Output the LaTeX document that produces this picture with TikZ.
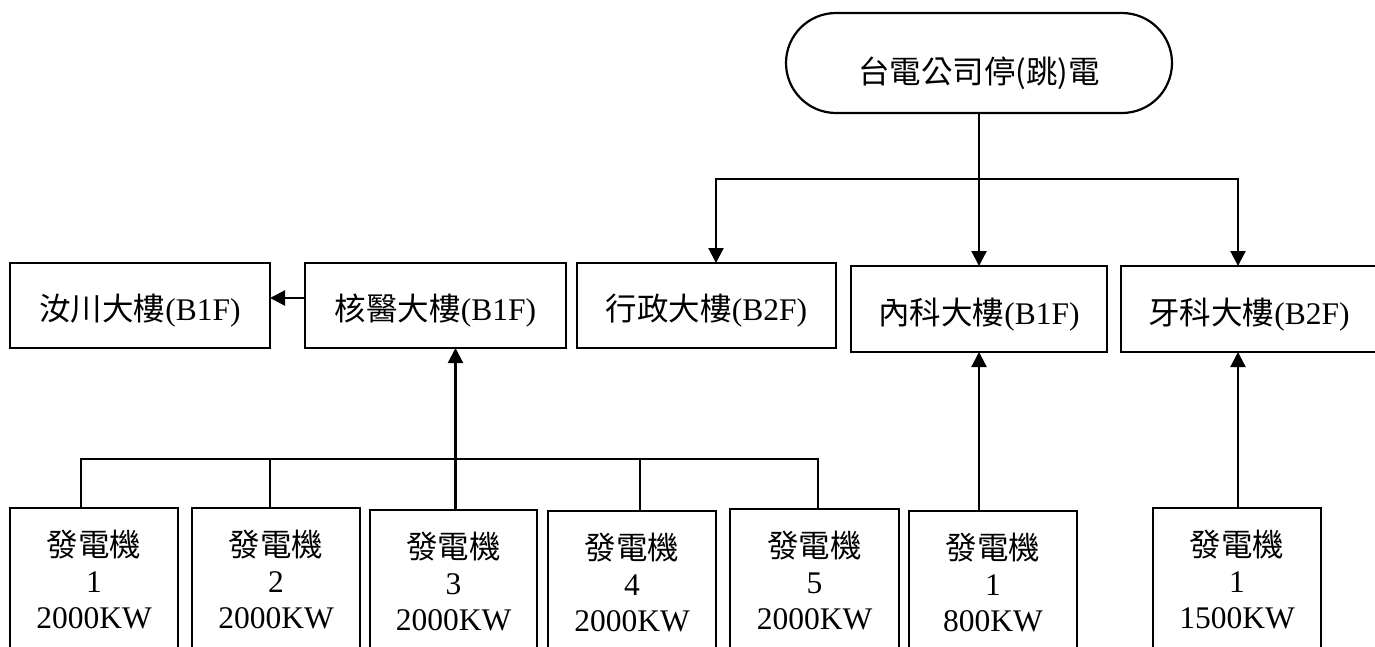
\documentclass[tikz,border=0pt]{standalone}
\usepackage{fontspec}
\setmainfont{Liberation Serif}
\newfontfamily\cjk{Noto Sans CJK TC}
\usetikzlibrary{arrows.meta,shapes.misc}
\begin{document}
\begin{tikzpicture}[x=1pt,y=-1pt,
  line width=2.2pt,
  every node/.style={inner sep=0pt, outer sep=0pt},
  txt/.style={font=\fontsize{31.5}{36}\selectfont},
  bldg/.style={draw, rectangle, txt, minimum height=85pt, text height=36pt, text depth=5.6pt},
  gen/.style={draw, rectangle, txt, minimum width=168pt, minimum height=143pt, anchor=north, align=center},
  term/.style={draw, rounded rectangle, txt, minimum width=386pt, minimum height=100pt, text height=44pt, text depth=3.8pt},
  arr/.style={-{Triangle[length=15pt,width=15pt]}},
  ]
\clip (0,0) rectangle (1375,646);
\fill[white] (0,0) rectangle (1375,646);
% top terminal
\node[term] (top) at (979,63) {\cjk 台電公司停(跳)電};
% buildings
\node[bldg, minimum width=260pt] (rc) at (140,305.5) {{\cjk 汝川大樓}(B1F)};
\node[bldg, minimum width=261pt] (hy) at (435.5,305.5) {{\cjk 核醫大樓}(B1F)};
\node[bldg, minimum width=259pt] (xz) at (706.5,305.5) {{\cjk 行政大樓}(B2F)};
\node[bldg, minimum width=256pt, minimum height=86pt] (nk) at (979,309) {{\cjk 內科大樓}(B1F)};
\node[bldg, minimum width=256pt, minimum height=86pt] (yk) at (1249,309) {{\cjk 牙科大樓}(B2F)};
% generators
\node[gen] (g1) at (94,508) {{\cjk 發電機}\\1\\2000KW};
\node[gen] (g2) at (276,508) {{\cjk 發電機}\\2\\2000KW};
\node[gen, minimum width=167pt] (g3) at (453.5,510) {{\cjk 發電機}\\3\\2000KW};
\node[gen] (g4) at (632,511) {{\cjk 發電機}\\4\\2000KW};
\node[gen, minimum width=169pt] (g5) at (814.5,509) {{\cjk 發電機}\\5\\2000KW};
\node[gen] (g6) at (993,511) {{\cjk 發電機}\\1\\800KW};
\node[gen] (g7) at (1237,508) {{\cjk 發電機}\\1\\1500KW};
% top distribution
\coordinate (bus) at (979,179);
\coordinate (xzin) at ([xshift=9.5pt]xz.north);
\coordinate (ykin) at ([xshift=-11pt]yk.north);
\draw[arr] (top.south) -- (nk.north);
\draw[arr] (bus) -| (xzin);
\draw[arr] (bus) -| (ykin);
% nuclear -> rc
\coordinate (hyout) at ([yshift=7.5pt]hy.west);
\draw[arr] (hyout) -- (hyout -| rc.east);
% generator bus
\coordinate (d1) at ([xshift=-13pt]g1.north);
\coordinate (d2) at ([xshift=-6pt]g2.north);
\coordinate (d3) at ([xshift=1.5pt]g3.north);
\coordinate (d4) at ([xshift=8pt]g4.north);
\coordinate (d5) at ([xshift=3.5pt]g5.north);
\coordinate (bus2) at (818,459);
\draw (d1) |- (bus2) -- (d5);
\draw (d2) -- (d2 |- bus2);
\draw (d4) -- (d4 |- bus2);
\coordinate (hyin) at ([xshift=20pt]hy.south);
\draw[arr] (d3 -| hyin) -- (hyin);
\draw[arr] (g6.north -| nk.south) -- (nk.south);
\coordinate (ykout) at ([xshift=-11pt]yk.south);
\draw[arr] (g7.north -| ykout) -- (ykout);
\end{tikzpicture}
\end{document}
